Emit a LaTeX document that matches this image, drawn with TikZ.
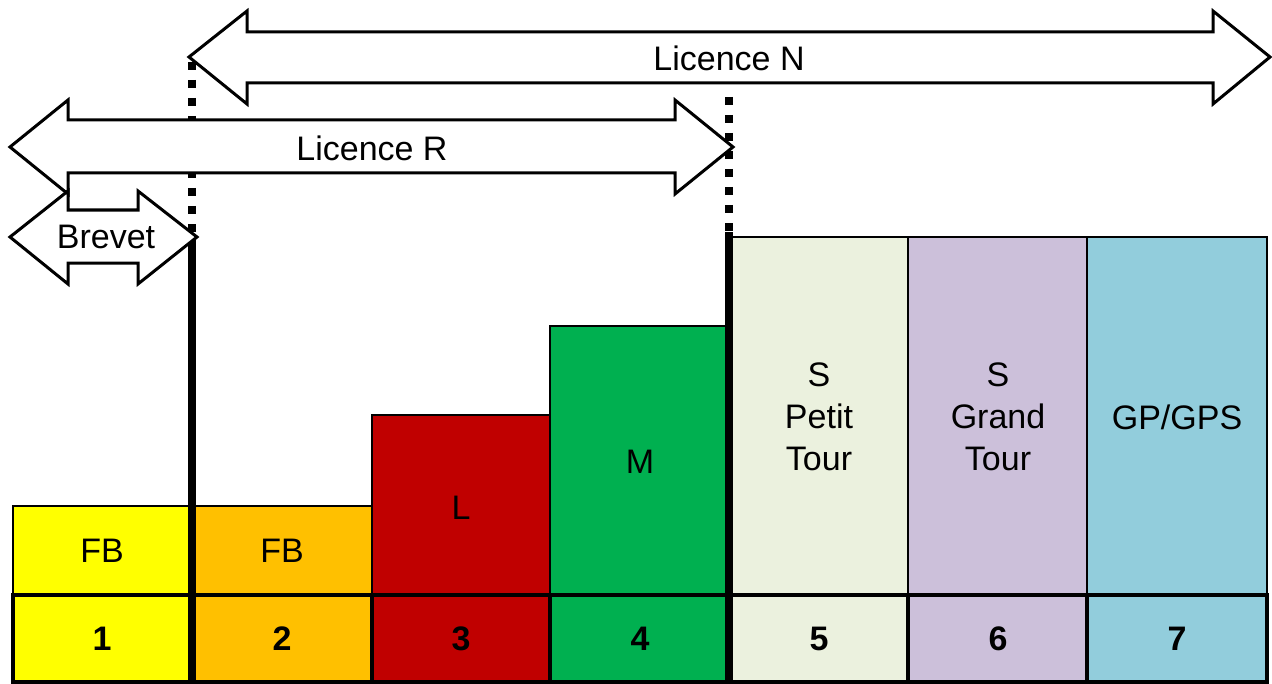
\documentclass[tikz,border=0pt]{standalone}
\usepackage{fontspec}
\setmainfont{Liberation Sans}
\definecolor{cA}{HTML}{FFFF00}
\definecolor{cB}{HTML}{FFC000}
\definecolor{cC}{HTML}{C00000}
\definecolor{cD}{HTML}{00B050}
\definecolor{cE}{HTML}{EBF1DE}
\definecolor{cF}{HTML}{CCC0DA}
\definecolor{cG}{HTML}{92CDDC}
\begin{document}
\begin{tikzpicture}[x=0.5pt,y=-0.5pt,
  barbox/.style={draw=black,line width=1pt},
  cellbox/.style={draw=black,line width=2.4pt},
  bigarrow/.style={draw=black,fill=white,line width=1.5pt,line join=miter},
  dotline/.style={line width=4pt,dash pattern=on 4pt off 5pt},
  solidline/.style={line width=4pt},
  lbl/.style={font=\fontsize{17}{21}\selectfont,align=center,inner sep=0pt},
  num/.style={font=\fontsize{17}{21}\selectfont\bfseries,inner sep=0pt}]
\useasboundingbox (0,0) rectangle (1272,684);
\fill[white] (0,0) rectangle (1272,684);
% bars
\path[barbox,fill=cA] (13,506) rectangle (191,595);
\path[barbox,fill=cB] (191,506) rectangle (372,595);
\path[barbox,fill=cC] (372,415) rectangle (550,595);
\path[barbox,fill=cD] (550,326) rectangle (729,595);
\path[barbox,fill=cE] (729,237) rectangle (908,595);
\path[barbox,fill=cF] (908,237) rectangle (1087,595);
\path[barbox,fill=cG] (1087,237) rectangle (1267,595);
% bottom cells
\path[cellbox,fill=cA] (13,595) rectangle (191,682);
\path[cellbox,fill=cB] (191,595) rectangle (372,682);
\path[cellbox,fill=cC] (372,595) rectangle (550,682);
\path[cellbox,fill=cD] (550,595) rectangle (729,682);
\path[cellbox,fill=cE] (729,595) rectangle (908,682);
\path[cellbox,fill=cF] (908,595) rectangle (1087,682);
\path[cellbox,fill=cG] (1087,595) rectangle (1267,682);
% separators
\coordinate (d1t) at (192,62);
\coordinate (d1b) at (192,237);
\coordinate (s1b) at (192,682);
\coordinate (d2t) at (729,97);
\coordinate (d2b) at (729,232);
\coordinate (s2b) at (729,682);
\draw[dotline] (d1t) -- (d1b);
\draw[solidline] (d1b) -- (s1b);
\draw[dotline] (d2t) -- (d2b);
\draw[solidline] (d2b) -- (s2b);
% arrows
\draw[bigarrow] (189,57) -- (247,11) -- (247,32) -- (1213,32) -- (1213,11) -- (1270,57)
  -- (1213,104) -- (1213,83) -- (247,83) -- (247,104) -- cycle;
\draw[bigarrow] (10,147) -- (68,100) -- (68,120) -- (675,120) -- (675,100) -- (733,147)
  -- (675,194) -- (675,173) -- (68,173) -- (68,194) -- cycle;
\draw[bigarrow] (10,237) -- (68,191) -- (68,210) -- (138,210) -- (138,191) -- (197,237)
  -- (138,284) -- (138,263) -- (68,263) -- (68,284) -- cycle;
\node[lbl] (licN) at (729,58) {Licence N};
\node[lbl] (licR) at (372,148) {Licence R};
\node[lbl] (brev) at (106,237) {Brevet};
% bar labels
\node[lbl] (t1) at (102,551) {FB};
\node[lbl] (t2) at (282,551) {FB};
\node[lbl] (t3) at (461,508) {L};
\node[lbl] (t4) at (640,462) {M};
\node[lbl] (t5) at (819,417) {S\\Petit\\Tour};
\node[lbl] (t6) at (998,417) {S\\Grand\\Tour};
\node[lbl] (t7) at (1177,417) {GP/GPS};
% numbers
\node[num] (n1) at (102,639) {1};
\node[num] (n2) at (282,639) {2};
\node[num] (n3) at (461,639) {3};
\node[num] (n4) at (640,639) {4};
\node[num] (n5) at (819,639) {5};
\node[num] (n6) at (998,639) {6};
\node[num] (n7) at (1177,639) {7};
\end{tikzpicture}
\end{document}
